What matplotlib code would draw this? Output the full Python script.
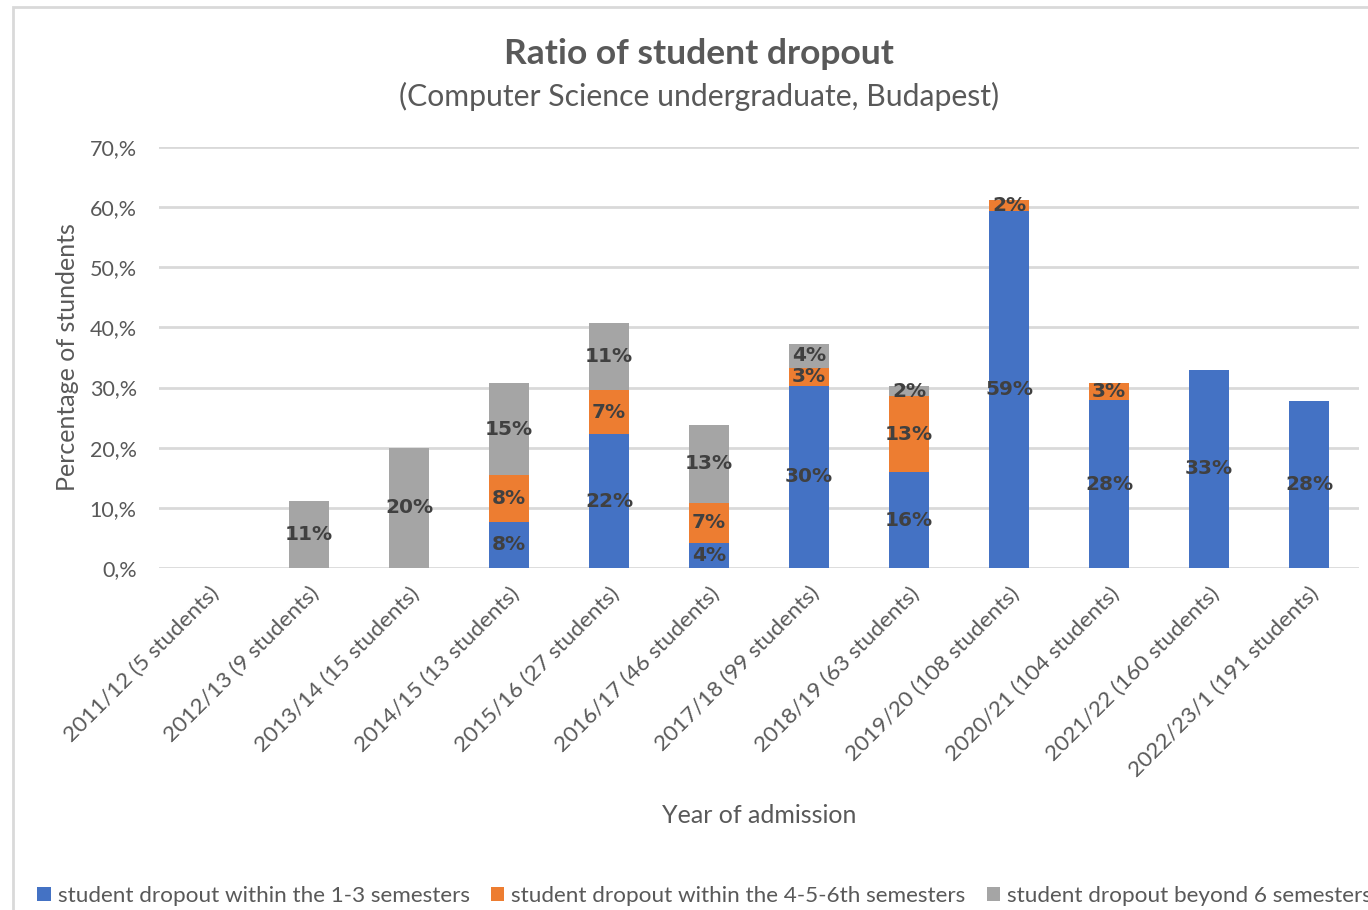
import matplotlib
matplotlib.use("Agg")
import matplotlib.pyplot as plt
import numpy as np

categories = ["2011/12 (5 students)", "2012/13 (9 students)", "2013/14 (15 students)",
              "2014/15 (13 students)", "2015/16 (27 students)", "2016/17 (46 students)",
              "2017/18 (99 students)", "2018/19 (63 students)", "2019/20 (108 students)",
              "2020/21 (104 students)", "2021/22 (160 students)", "2022/23/1 (191 students)"]
within_1_3 = [0, 0, 0, 7.7, 22.2, 4.2, 30.3, 15.9, 59.3, 27.9, 33.0, 27.7]
within_4_6 = [0, 0, 0, 7.7, 7.4, 6.6, 3.0, 12.7, 1.9, 2.9, 0, 0]
beyond_6 = [0, 11.1, 20.0, 15.4, 11.1, 13.0, 4.0, 1.6, 0, 0, 0, 0]
series_names = ["student dropout within the 1-3 semesters",
                "student dropout within the 4-5-6th semesters",
                "student dropout beyond 6 semesters"]
colors = ["#4472C4", "#ED7D31", "#A5A5A5"]
yticks = [0, 10, 20, 30, 40, 50, 60, 70]
ytick_labels = ["0,%", "10,%", "20,%", "30,%", "40,%", "50,%", "60,%", "70,%"]

plt.rcParams['font.family'] = ['Lato', 'DejaVu Sans']

W, H = 1368, 910
fig = plt.figure(figsize=(W/100, H/100), dpi=100)
ax = fig.add_axes([159/W, 1-568/H, 1200/W, (568-147)/H])

x = np.arange(len(categories))
bottom = np.zeros(len(categories))
handles = []
for vals, name, c in zip([within_1_3, within_4_6, beyond_6], series_names, colors):
    vals = np.array(vals, dtype=float)
    b = ax.bar(x, vals, 0.4, bottom=bottom, color=c, label=name, zorder=3)
    handles.append(b)
    for xi, v, bt in zip(x, vals, bottom):
        if v > 0:
            ax.text(xi, bt + v/2, f"{round(v):.0f}%", ha='center', va='center',
                    fontsize=14.5, fontweight='bold', color='#404040',
                    family='DejaVu Sans', zorder=4)
    bottom = bottom + vals

ax.set_xlim(-0.5, len(categories) - 0.5)
ax.set_ylim(0, 70)
ax.set_yticks(yticks)
ax.set_yticklabels(ytick_labels, fontsize=15.5, color='#595959')
ax.yaxis.grid(True, color='#D9D9D9', linewidth=2, zorder=0)
ax.set_axisbelow(True)
for s in ax.spines.values():
    s.set_visible(False)
ax.tick_params(axis='both', length=0)
ax.tick_params(axis='y', pad=16)
ax.set_xticks(x)
ax.set_xticklabels(categories, rotation=45, ha='right', rotation_mode='anchor',
                   fontsize=16.2, color='#595959')
ax.tick_params(axis='x', pad=11)
ax.set_ylabel("Percentage of stundents", fontsize=18, color='#595959', labelpad=8)
ax.set_xlabel("Year of admission", fontsize=18, color='#595959', labelpad=17)

fig.text(699/W, 1-54/H, "Ratio of student dropout", ha='center', va='center',
         fontsize=25.5, fontweight='bold', color='#595959')
fig.text(699/W, 1-96/H, "(Computer Science undergraduate, Budapest)", ha='center',
         va='center', fontsize=21.7, color='#595959')

leg = fig.legend(handles, series_names, loc='center left', bbox_to_anchor=(17/W, 1-896/H),
                 ncol=3, frameon=False, fontsize=16.2, handlelength=0.6, handleheight=0.6,
                 handletextpad=0.3, columnspacing=0.95, labelcolor='#595959')

border = plt.Rectangle((13/W, -0.1), 1.2, 1 - 7/H + 0.1, transform=fig.transFigure,
                       fill=False, edgecolor='#D9D9D9', linewidth=2)
fig.patches.append(border)

fig.savefig("out.png", dpi=100)
